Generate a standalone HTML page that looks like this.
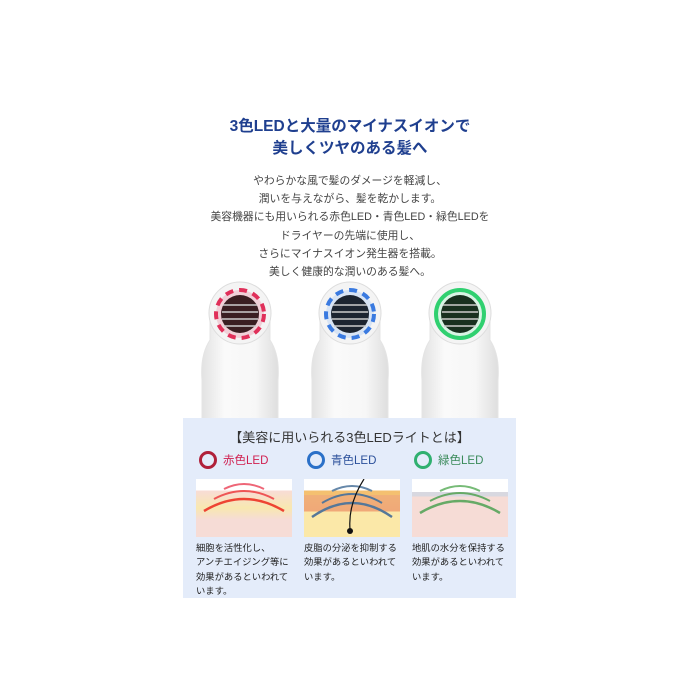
<!DOCTYPE html>
<html><head><meta charset="utf-8"><style>
body{margin:0;width:700px;height:700px;background:#fff;position:relative;overflow:hidden;font-family:"Liberation Sans","Noto Sans CJK JP",sans-serif}
.t{position:absolute;left:0;width:700px;text-align:center;white-space:nowrap}
.ti{color:#1f3f8f;font-size:15.5px;font-weight:bold}
.bd{color:#444;font-size:10.8px;line-height:18.2px}
.p{position:absolute;left:183px;top:418px;width:333px;height:180px;background:#e4ecfa}
.h{position:absolute;left:0;width:333px;text-align:center;top:9px;font-size:13px;color:#333}
.lab{position:absolute;top:34px;font-size:11.5px}
.ring{position:absolute;top:33px;width:12px;height:12px;border-radius:50%;border:3px solid}
.img{position:absolute;top:61px;width:96px;height:58px;background:#fff;overflow:hidden}
.tx{position:absolute;top:123px;font-size:9.3px;line-height:14.3px;color:#222;white-space:nowrap}
</style></head><body>
<div class="t ti" style="top:114px">3色LEDと大量のマイナスイオンで</div>
<div class="t ti" style="top:136px">美しくツヤのある髪へ</div>
<div class="t bd" style="top:172px">やわらかな風で髪のダメージを軽減し、<br>潤いを与えながら、髪を乾かします。<br>美容機器にも用いられる赤色LED・青色LED・緑色LEDを<br>ドライヤーの先端に使用し、<br>さらにマイナスイオン発生器を搭載。<br>美しく健康的な潤いのある髪へ。</div>
<svg width="700" height="420" style="position:absolute;left:0;top:0">
<defs><linearGradient id="b" x1="0" x2="1"><stop offset="0" stop-color="#e2e2e2"/><stop offset=".3" stop-color="#fafafa"/><stop offset=".7" stop-color="#f7f7f7"/><stop offset="1" stop-color="#dedede"/></linearGradient>
<g id="d">
<path d="M-38 420 L-38 380 Q-40 355 -30 340 L-30 315 A30 30 0 0 1 30 315 L30 340 Q40 355 38 380 L38 420Z" fill="url(#b)" stroke="#e4e4e4"/>
<circle cx="0" cy="313" r="31" fill="#f4f4f4" stroke="#ddd"/>
</g></defs>
<use href="#d" x="240"/><use href="#d" x="350"/><use href="#d" x="460"/>
<circle cx="240" cy="314" r="24" fill="#f0d0d8" stroke="#e0305a" stroke-width="4" stroke-dasharray="8 6"/><circle cx="240" cy="314" r="19" fill="#3a1e22"/>
<circle cx="350" cy="314" r="24" fill="#d8e4f4" stroke="#3a7ae0" stroke-width="4" stroke-dasharray="8 6"/><circle cx="350" cy="314" r="19" fill="#1c2430"/>
<circle cx="460" cy="314" r="24" fill="#d8f4e4" stroke="#30d070" stroke-width="4"/><circle cx="460" cy="314" r="19" fill="#18301f"/>
<g stroke="#ccc" stroke-width="1.5"><path d="M223 305h34M222 312h36M222 319h36M224 326h32M333 305h34M332 312h36M332 319h36M334 326h32M443 305h34M442 312h36M442 319h36M444 326h32"/></g>
</svg>
<div class="p">
<div class="h">【美容に用いられる3色LEDライトとは】</div>
<div class="ring" style="left:16px;border-color:#b0203a"></div><div class="lab" style="left:40px;color:#d02050">赤色LED</div>
<div class="ring" style="left:124px;border-color:#2a70c8"></div><div class="lab" style="left:148px;color:#2a4f9a">青色LED</div>
<div class="ring" style="left:231px;border-color:#30b070"></div><div class="lab" style="left:255px;color:#3a8a5a">緑色LED</div>
<div class="img" style="left:13px;background:linear-gradient(#fff 20%,#f8dcd6 20%,#f8e8b0 50%,#f6dcd6 70%)"><svg width="96" height="58" fill="none"><path d="M28 10Q48 0 68 10" stroke="#e67" stroke-width="2"/><path d="M18 20Q48 4 78 20" stroke="#e55" stroke-width="2"/><path d="M8 32Q48 8 88 32" stroke="#e43" stroke-width="2.5"/></svg></div>
<div class="img" style="left:121px;background:linear-gradient(#fff 20%,#f4c070 20%,#f4c070 28%,#f0b078 28%,#f0a878 56%,#fbe8a8 56%)"><svg width="96" height="58" fill="none"><path d="M28 12Q48 2 68 12" stroke="#68a" stroke-width="2"/><path d="M18 24Q48 6 78 24" stroke="#579" stroke-width="2"/><path d="M8 38Q48 10 88 38" stroke="#579" stroke-width="2.5"/><path d="M60 0Q44 25 46 50" stroke="#111" stroke-width="1.2"/><circle cx="46" cy="52" r="3" fill="#111"/></svg></div>
<div class="img" style="left:229px;background:linear-gradient(#fff 22%,#d8d8e0 22%,#d8d8e0 30%,#f6dcd6 30%)"><svg width="96" height="58" fill="none"><path d="M28 12Q48 2 68 12" stroke="#7b7" stroke-width="2"/><path d="M18 22Q48 6 78 22" stroke="#6a6" stroke-width="2"/><path d="M8 34Q48 10 88 34" stroke="#6a6" stroke-width="2.5"/></svg></div>
<div class="tx" style="left:13px">細胞を活性化し、<br>アンチエイジング等に<br>効果があるといわれて<br>います。</div>
<div class="tx" style="left:121px">皮脂の分泌を抑制する<br>効果があるといわれて<br>います。</div>
<div class="tx" style="left:229px">地肌の水分を保持する<br>効果があるといわれて<br>います。</div>
</div>
</body></html>
